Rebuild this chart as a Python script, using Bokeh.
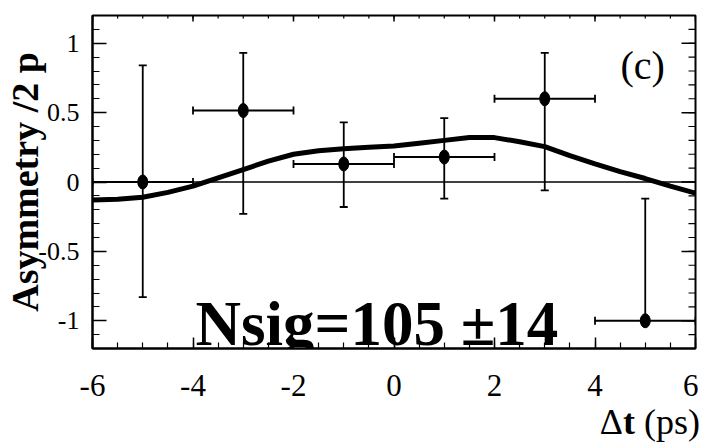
import math
from bokeh.plotting import figure
from bokeh.layouts import column
from bokeh.models import (ColumnDataSource, Whisker, TeeHead, Span, Label,
                          FixedTicker, Range1d, Div)
from bokeh.embed import file_html
from bokeh.resources import INLINE

# ---- data ----
dt_bins = [-5.0, -3.0, -1.0, 1.0, 3.0, 5.0]
bin_lo = [-6.0, -4.0, -2.0, 0.0, 2.0, 4.0]
bin_hi = [-4.0, -2.0, 0.0, 2.0, 4.0, 6.0]
asym = [0.0, 0.515, 0.13, 0.18, 0.60, -1.0]
asym_hi = [0.84, 0.93, 0.43, 0.46, 0.93, -0.12]
asym_lo = [-0.83, -0.23, -0.18, -0.12, -0.06, -1.0]

fit_t = [-6.0, -5.5, -5.0, -4.5, -4.0, -3.5, -3.0, -2.5, -2.0, -1.5, -1.0, -0.5,
         0.0, 0.5, 1.0, 1.5, 2.0, 2.5, 3.0, 3.5, 4.0, 4.5, 5.0, 5.5, 6.0]
fit_a = [-0.13, -0.125, -0.11, -0.075, -0.03, 0.03, 0.09, 0.15, 0.20, 0.225, 0.24, 0.25,
         0.26, 0.28, 0.30, 0.32, 0.32, 0.29, 0.255, 0.19, 0.13, 0.075, 0.025, -0.03, -0.08]

x_min, x_max = -6.0, 6.0
y_min, y_max = -1.2, 1.2
x_major = [-6, -4, -2, 0, 2, 4, 6]
x_tick_labels = ["-6", "-4", "-2", "0", "2", "4", "6"]
x_minor = [-6.0, -5.5, -5.0, -4.5, -4.0, -3.5, -3.0, -2.5, -2.0, -1.5, -1.0, -0.5,
           0.0, 0.5, 1.0, 1.5, 2.0, 2.5, 3.0, 3.5, 4.0, 4.5, 5.0, 5.5, 6.0]
y_major = [-1, -0.5, 0, 0.5, 1]
y_tick_labels = ["-1", "-0.5", "0", "0.5", "1"]
y_minor = [-1.2, -1.1, -1.0, -0.9, -0.8, -0.7, -0.6, -0.5, -0.4, -0.3, -0.2, -0.1,
           0.0, 0.1, 0.2, 0.3, 0.4, 0.5, 0.6, 0.7, 0.8, 0.9, 1.0, 1.1, 1.2]

FONT = "Liberation Serif"

p = figure(frame_width=603, frame_height=333, output_backend="svg", toolbar_location=None,
           x_range=Range1d(x_min, x_max), y_range=Range1d(y_min, y_max),
           min_border_left=92, min_border_right=3, min_border_top=15, min_border_bottom=60)
p.background_fill_color = "white"
p.border_fill_color = "white"
p.outline_line_color = "black"
p.outline_line_width = 2
p.xgrid.visible = False
p.ygrid.visible = False

def style_axis(ax, ticks, minor, labels, major_in, minor_in, size):
    ax.ticker = FixedTicker(ticks=ticks, minor_ticks=minor)
    ax.axis_line_color = "black"
    ax.axis_line_width = 2
    ax.major_tick_in = major_in
    ax.major_tick_out = 0
    ax.minor_tick_in = minor_in
    ax.minor_tick_out = 0
    ax.major_tick_line_width = 1.5
    ax.minor_tick_line_width = 1.2
    ax.major_tick_line_color = "black"
    ax.minor_tick_line_color = "black"
    ax.major_label_overrides = {t: s for t, s in zip(ticks, labels)}
    ax.major_label_text_font = FONT
    ax.major_label_text_font_size = size
    ax.major_label_text_color = "black"

xa = p.xaxis[0]
style_axis(xa, x_major, x_minor, x_tick_labels, 11, 6, "31px")
xa.major_label_standoff = 26

ya = p.yaxis[0]
style_axis(ya, y_major, y_minor, y_tick_labels, 14, 7, "26px")
ya.major_label_standoff = 13
ya.axis_label = "Asymmetry /2 p"
ya.axis_label_text_font = FONT
ya.axis_label_text_font_size = "38px"
ya.axis_label_text_font_style = "bold"
ya.axis_label_text_color = "black"
ya.axis_label_standoff = -11

# mirrored ticks on the top and right edges
top_y = [y_max] * len(x_major)
top_y_minor = [y_max] * len(x_minor)
right_x = [x_max] * len(y_major)
right_x_minor = [x_max] * len(y_minor)
p.ray(x=x_minor, y=top_y_minor, length=3, angle=-math.pi / 2, length_units="screen",
      line_color="black", line_width=1.2)
p.ray(x=x_major, y=top_y, length=6, angle=-math.pi / 2, length_units="screen",
      line_color="black", line_width=1.5)
p.ray(x=right_x_minor, y=y_minor, length=7, angle=math.pi, length_units="screen",
      line_color="black", line_width=1.2)
p.ray(x=right_x, y=y_major, length=14, angle=math.pi, length_units="screen",
      line_color="black", line_width=1.5)

# zero line
p.add_layout(Span(location=0, dimension="width", line_color="black", line_width=1.5,
                  level="underlay"))

# fit curve
p.line(fit_t, fit_a, line_color="black", line_width=5)

src = ColumnDataSource(dict(x=dt_bins, y=asym, hi=asym_hi, lo=asym_lo, xlo=bin_lo, xhi=bin_hi))

p.add_layout(Whisker(source=src, base="x", upper="hi", lower="lo", dimension="height",
                     line_color="black", line_width=1.8,
                     upper_head=TeeHead(size=8, line_width=1.8, line_color="black"),
                     lower_head=TeeHead(size=8, line_width=1.8, line_color="black")))
p.add_layout(Whisker(source=src, base="y", upper="xhi", lower="xlo", dimension="width",
                     line_color="black", line_width=2,
                     upper_head=TeeHead(size=8, line_width=1.8, line_color="black"),
                     lower_head=TeeHead(size=8, line_width=1.8, line_color="black")))

p.ellipse(x="x", y="y", width=10, height=14, width_units="screen", height_units="screen",
          source=src, fill_color="black", line_color="black")

# texts inside the frame
p.add_layout(Label(x=-3.95, y=-1.02, text="Nsig=105 ±14", text_font=FONT,
                   text_font_size="63px", text_font_style="bold",
                   text_baseline="alphabetic", text_align="left", text_color="black"))
p.add_layout(Label(x=4.95, y=0.84, text="(c)", text_font=FONT, text_font_size="40px",
                   text_baseline="middle", text_align="center", text_color="black"))

# x-axis title, right-aligned under the axis
xlabel = Div(text="Δ<b>t</b> (ps)", width=700, height=34, margin=(0, 0, 0, 0),
             styles={"font-family": FONT, "font-size": "36px", "line-height": "28px",
                     "text-align": "right", "color": "black", "white-space": "nowrap",
                     "overflow": "visible"})

layout = column(p, xlabel, spacing=0)
open("out.html", "w").write(file_html(layout, INLINE))
